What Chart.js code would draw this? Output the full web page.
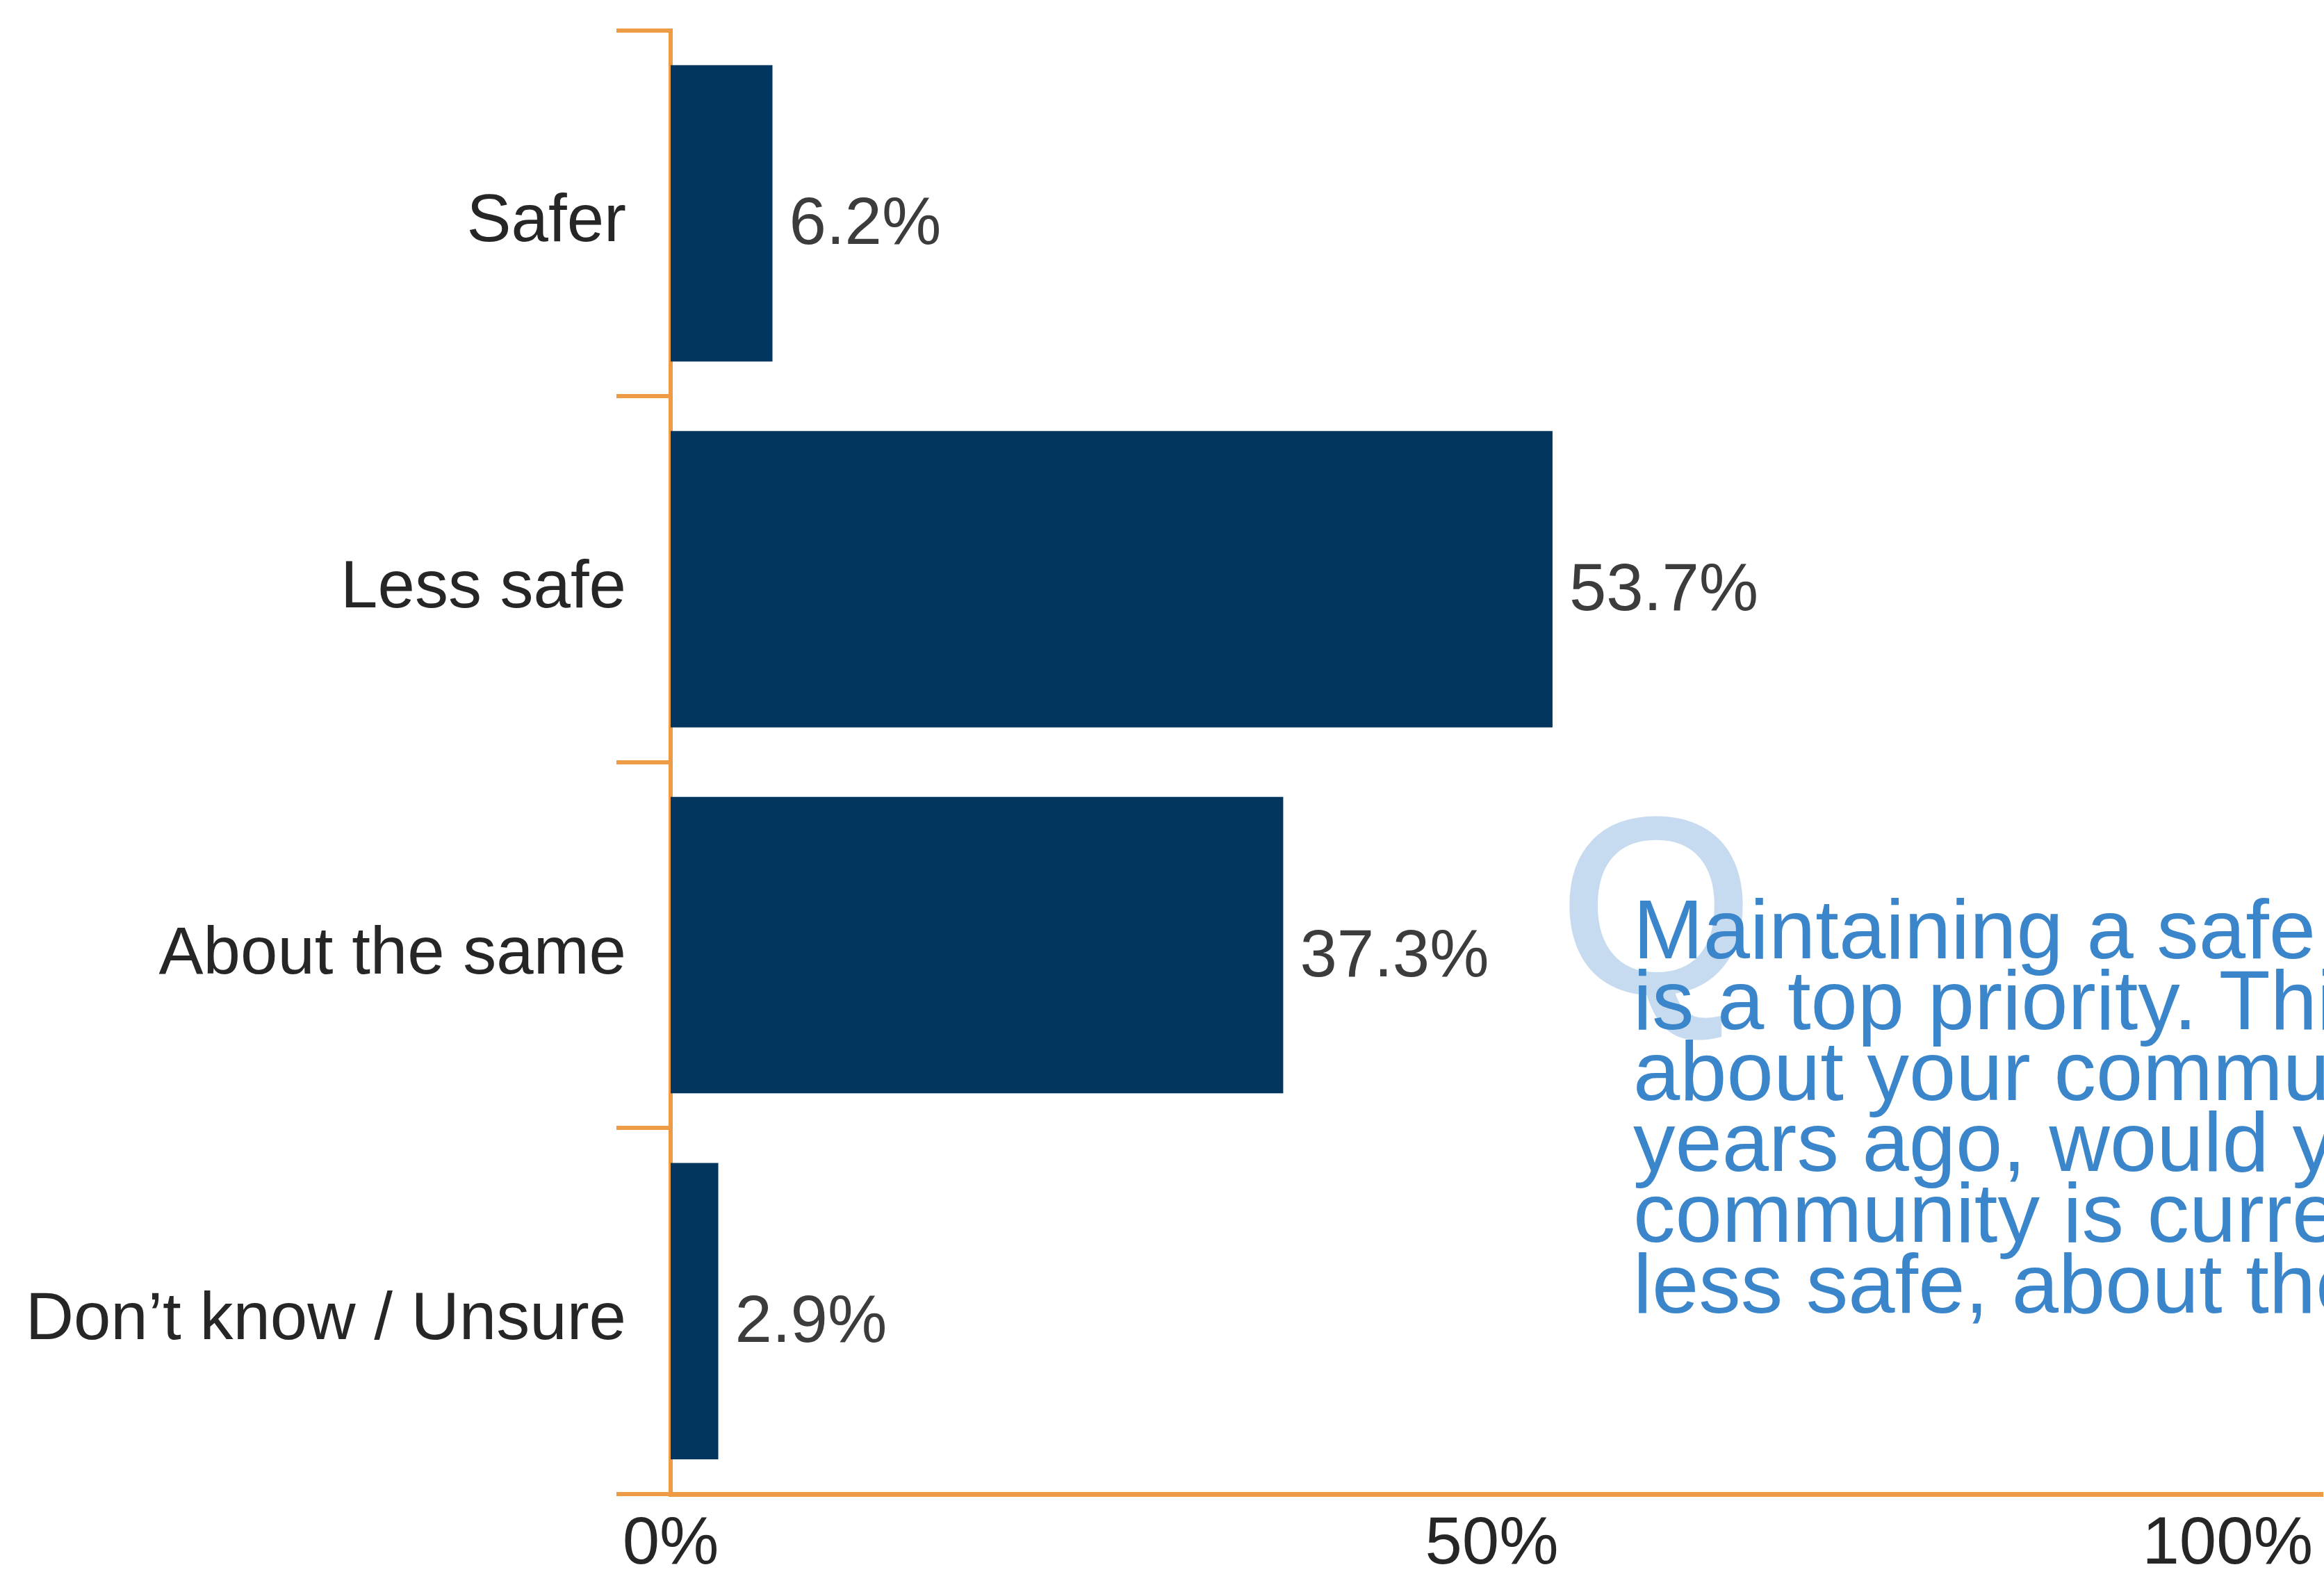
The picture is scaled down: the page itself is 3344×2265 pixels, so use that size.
<!DOCTYPE html>
<html>
<head>
<meta charset="utf-8">
<script src="https://cdn.jsdelivr.net/npm/chart.js@4.4.1/dist/chart.umd.min.js"></script>
<style>
  html, body { margin: 0; padding: 0; background: #ffffff; overflow: hidden; }
  #wrap { position: relative; width: 3344px; height: 2265px; overflow: hidden; background: #ffffff; }
  #c { position: absolute; left: 0; top: 0; }
  #qmark { position: absolute; left: 2245px; top: 1126px; font: 355px/1 "Liberation Sans", Arial, sans-serif; color: #C6DBF0; -webkit-text-stroke: 7px #C6DBF0; z-index: 1; }
  #question { position: absolute; left: 2350px; top: 1286px; font: 121px/102px "Liberation Sans", Arial, sans-serif; color: #3B86CB; white-space: nowrap; z-index: 2; }
</style>
</head>
<body>
<div id="wrap">
  <canvas id="c" width="3344" height="2265"></canvas>
  <div id="qmark">Q</div>
  <div id="question"></div>
</div>
<script>
// ---- data ----
const categories = ['Safer', 'Less safe', 'About the same', 'Don\u2019t know / Unsure'];
const values = [6.2, 53.7, 37.3, 2.9];
const xTicks = [0, 50, 100];
const questionLines = [
  'Maintaining a safe community',
  'is a top priority. Thinking',
  'about your community now',
  'years ago, would you say your',
  'community is currently safer,',
  'less safe, about the same?'
];

// ---- styles ----
const ORANGE = '#EE9B45';
const BAR = '#02365F';
const FONT = 'Liberation Sans';

document.getElementById('question').innerHTML = questionLines.join('<br>');

const valueLabels = {
  id: 'valueLabels',
  afterDatasetsDraw(chart) {
    const ctx = chart.ctx;
    const meta = chart.getDatasetMeta(0);
    ctx.save();
    ctx.font = '96px "' + FONT + '"';
    ctx.fillStyle = '#3c3c3c';
    ctx.textAlign = 'left';
    ctx.textBaseline = 'middle';
    meta.data.forEach((bar, i) => {
      ctx.fillText(values[i].toFixed(1) + '%', bar.x + 24, bar.y + 18);
    });
    ctx.restore();
  }
};

const centerFirstX = {
  id: 'centerFirstX',
  beforeDraw(chart) {
    const xs = chart.scales.x;
    const items = xs.getLabelItems();
    if (items && items.length) items[0].options.textAlign = 'center';
  }
};

new Chart(document.getElementById('c'), {
  type: 'bar',
  data: {
    labels: categories,
    datasets: [{
      data: values,
      backgroundColor: BAR,
      borderWidth: 0,
      barPercentage: 0.9,
      categoryPercentage: 0.9
    }]
  },
  options: {
    indexAxis: 'y',
    responsive: false,
    animation: false,
    devicePixelRatio: 1,
    layout: { padding: { top: 38, right: 0, bottom: 0, left: 0 } },
    plugins: { legend: { display: false }, tooltip: { enabled: false } },
    scales: {
      x: {
        min: 0,
        max: 100.6,
        afterBuildTicks: s => { s.ticks = xTicks.map(v => ({ value: v })); },
        ticks: {
          align: 'inner',
          padding: 16,
          color: '#262626',
          font: { family: FONT, size: 96 },
          callback: v => v + '%'
        },
        grid: { display: false, drawTicks: false },
        border: { display: true, color: ORANGE, width: 7 },
        afterFit: s => { s.height = 115; }
      },
      y: {
        ticks: {
          padding: -14,
          labelOffset: 14,
          color: '#262626',
          font: { family: FONT, size: 96 }
        },
        grid: {
          display: true,
          drawOnChartArea: false,
          drawTicks: true,
          tickLength: 78,
          color: ORANGE,
          lineWidth: 6
        },
        border: { display: true, color: ORANGE, width: 6 },
        afterFit: s => { s.width = 965; }
      }
    }
  },
  plugins: [valueLabels, centerFirstX]
});
</script>
</body>
</html>
